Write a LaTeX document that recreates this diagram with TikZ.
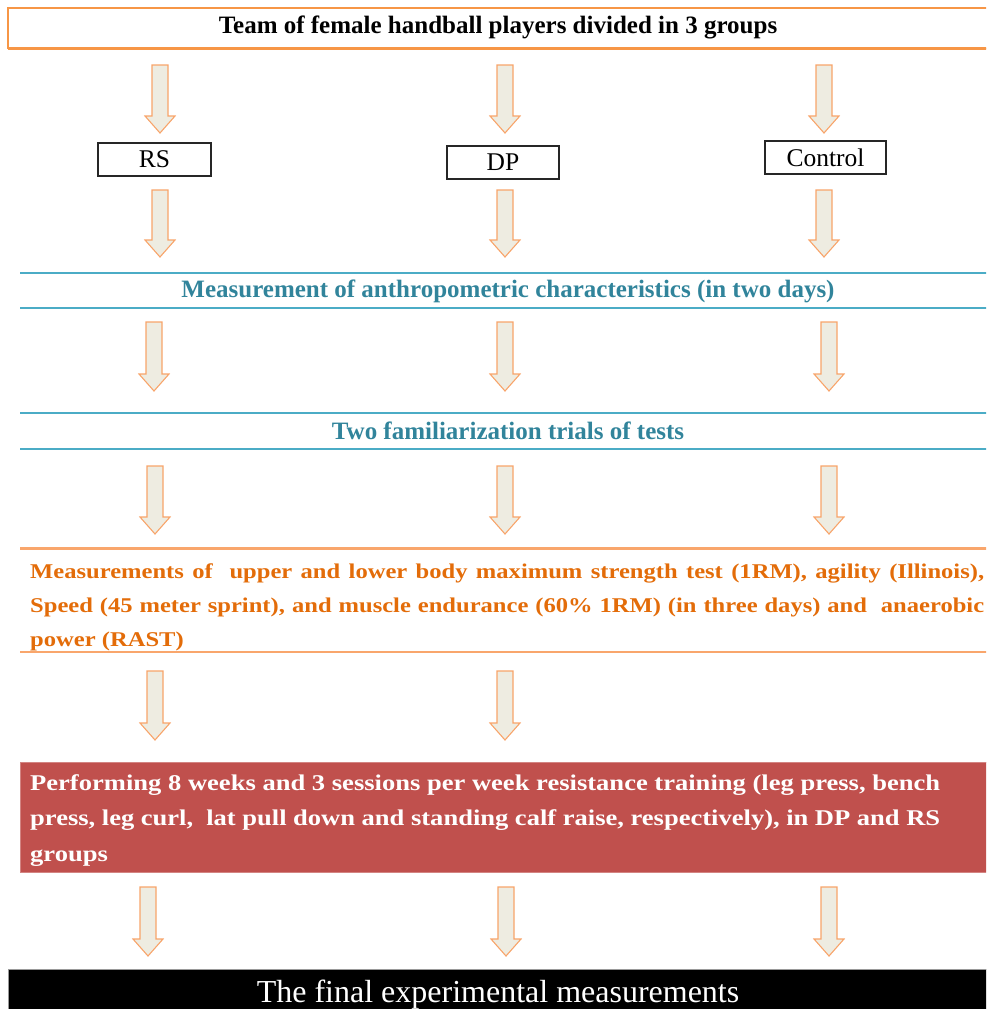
\documentclass[tikz,border=0pt]{standalone}
\usepackage{fontspec}
\setmainfont{Liberation Serif}
\newfontfamily\wideserif[FakeStretch=1.17]{Liberation Serif}
\newfontfamily\widerserif[FakeStretch=1.18]{Liberation Serif}
\definecolor{orline}{HTML}{F79646}
\definecolor{orband}{HTML}{F9A66C}
\definecolor{ortext}{HTML}{E36C09}
\definecolor{blline}{HTML}{4BACC6}
\definecolor{bltext}{HTML}{31849B}
\definecolor{redfill}{HTML}{C0504D}
\definecolor{arrfill}{HTML}{EEECE1}
\definecolor{arrline}{HTML}{F8A46A}
\tikzset{
  blockarrow/.style={fill=arrfill, draw=arrline, line width=1.1pt, line join=miter},
  groupbox/.style={draw=black!85, line width=1.1pt, minimum height=33pt, inner sep=0pt,
     font=\fontsize{25.5}{28}\selectfont},
  bandtext/.style={text=bltext, inner sep=0pt, font=\fontsize{25}{28}\selectfont\bfseries},
  bandline/.style={draw=blline, line width=1.8pt},
  orline/.style={draw=orband, line width=2.2pt},
}
\newcommand{\downblock}[3]{%
  \draw[blockarrow] ({#1-8},#2) -- ({#1+8},#2) -- ({#1+8},{#3-17}) -- ({#1+15},{#3-17})
    -- (#1,#3) -- ({#1-15},{#3-17}) -- ({#1-8},{#3-17}) -- cycle;}
\begin{document}
\begin{tikzpicture}[x=1pt,y=-1pt]
\useasboundingbox (0,0) rectangle (986,1009);
\clip (0,0) rectangle (986,1009);

% title box
\draw[draw=orline, line width=1.6pt, fill=white] (8,8) rectangle (995,48.5);
\draw[draw=orline, line width=3.5pt] (8,48.5) -- (995,48.5);
\node[inner sep=0pt, font=\fontsize{25}{28}\selectfont\bfseries] (title) at (498,27) {Team of female handball players divided in 3 groups};

% row 1 arrows
\downblock{160}{65}{133}
\downblock{505}{65}{133}
\downblock{824}{65}{133}

% group boxes
\node[groupbox, minimum width=113pt] (rs) at (154.5,159.5) {RS};
\node[groupbox, minimum width=112pt] (dp) at (503,162.5) {DP};
\node[groupbox, minimum width=121pt] (ctrl) at (825.5,157.5) {Control};

% row 2 arrows
\downblock{160}{190}{257}
\downblock{505}{190}{257}
\downblock{824}{190}{257}

% band 1
\draw[bandline] (20,273) -- (990,273);
\draw[bandline] (20,308) -- (990,308);
\node[bandtext] (anthro) at (508,291) {Measurement of anthropometric characteristics (in two days)};

% row 3 arrows
\downblock{154}{322}{391}
\downblock{505}{322}{391}
\downblock{829}{322}{391}

% band 2
\draw[bandline] (20,413) -- (990,413);
\draw[bandline] (20,449) -- (990,449);
\node[bandtext] (famil) at (508,431) {Two familiarization trials of tests};

% row 4 arrows
\downblock{155}{466}{534}
\downblock{505}{466}{534}
\downblock{829}{466}{534}

% orange band
\draw[orline] (20,548.5) -- (990,548.5);
\draw[orline] (20,652) -- (990,652);
\node[anchor=base west, inner sep=0pt, text width=954pt, align=justify, text=ortext,
      font=\wideserif\fontsize{21}{34}\selectfont\bfseries] (meas) at (30,578)
  {Measurements of\ \ upper and lower body maximum strength test (1RM), agility (Illinois),\linebreak
   Speed (45 meter sprint), and muscle endurance (60\% 1RM) (in three days) and\ \ anaerobic\linebreak
   power (RAST)};

% row 5 arrows
\downblock{155}{671}{740}
\downblock{505}{671}{740}

% red box
\draw[fill=redfill, draw=redfill!70!white, line width=1pt] (20,762) rectangle (995,872);
\node[anchor=base west, inner sep=0pt, text width=910pt, align=justify, text=white,
      font=\widerserif\fontsize{22.5}{35.5}\selectfont\bfseries] (train) at (30,790)
  {Performing 8 weeks and 3 sessions per week resistance training (leg press, bench\linebreak
   press, leg curl,\ \ lat pull down and standing calf raise, respectively),\ in DP and RS\linebreak
   groups};

% row 6 arrows
\downblock{148}{887}{956}
\downblock{506}{887}{956}
\downblock{829}{887}{956}

% final box
\draw[fill=black, draw=black!40] (8,969) rectangle (995,1015);
\node[anchor=base, inner sep=0pt, text=white, font=\fontsize{32}{36}\selectfont] (final) at (498,1002)
  {The final experimental measurements};
\end{tikzpicture}
\end{document}
